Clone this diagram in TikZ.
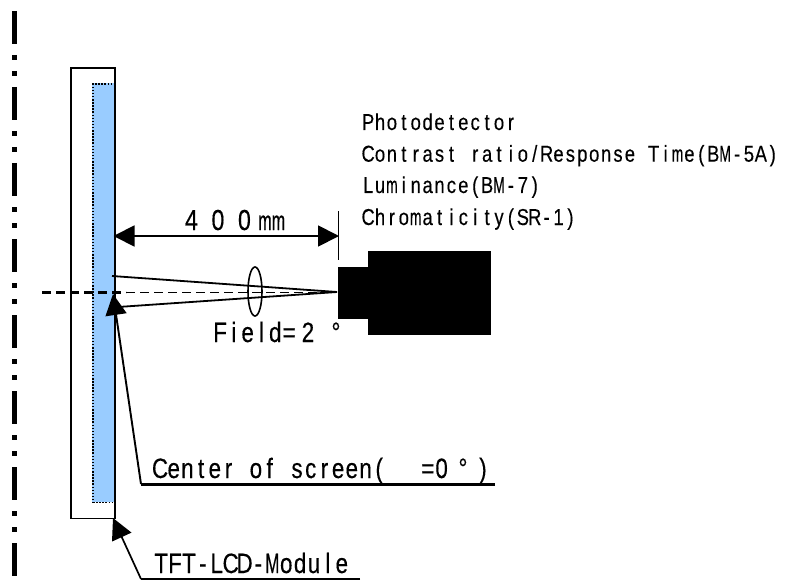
\documentclass[tikz,border=0pt]{standalone}
\usepackage{fontspec}
\setmainfont{Liberation Sans}
\newfontfamily\narrowfont[FakeStretch=0.8,FakeBold=0.3]{Liberation Sans}
\newfontfamily\squeezefont[FakeStretch=0.6,FakeBold=0.3]{Liberation Sans}
\definecolor{panel}{HTML}{99CCFF}
\ExplSyntaxOn
\NewDocumentCommand\monotext{mmm}{%
  % #1 pitch, #2 font size, #3 text
  {\fontsize{#2}{#2}\selectfont\narrowfont
   \str_map_inline:nn{#3}{\makebox[#1][c]{\str_if_eq:nnTF{##1}{m}{{\squeezefont m}}{\str_if_eq:nnTF{##1}{M}{{\squeezefont M}}{##1}}}}}%
}
\ExplSyntaxOff
\usetikzlibrary{arrows.meta,shapes.geometric}
\tikzset{
  x=1pt,y=-1pt,
  txt/.style={inner sep=0pt,anchor=base west},
  head/.style={-{Triangle[length=21pt,width=21pt]}},
  bihead/.style={{Triangle[length=21pt,width=21pt]}-{Triangle[length=21pt,width=21pt]}},
  thinl/.style={line width=1.8pt},
  thickl/.style={line width=3pt},
  cendash/.style={dash pattern=on 9.3pt off 4.7pt}
}
\begin{document}
\begin{tikzpicture}
\useasboundingbox (0,0) rectangle (797,580);
% coordinates
\coordinate (dtop) at (14.5,11);
\coordinate (dbot) at (14.5,576);
\coordinate (cenL) at (42,292.7);
\coordinate (cenM) at (126,292.7);
\coordinate (cenR) at (337,292.7);
\coordinate (lensA) at (337,292);
\coordinate (upL) at (112,276);
\coordinate (loL) at (118,307);
\coordinate (cs1) at (141,484);
\coordinate (cs2) at (495,484);
\coordinate (cst) at (113,294);
\coordinate (tf1) at (141,579);
\coordinate (tf2) at (360,579);
\coordinate (tft) at (113,518);
\coordinate (dimL) at (113.5,236);
\coordinate (dimR) at (339,236);
\coordinate (tick1) at (338.5,211);
\coordinate (tick2) at (338.5,260);
% dash-dot axis
\draw[line width=5pt,dash pattern=on 33pt off 11pt on 5pt off 11pt on 5pt off 11pt] (dtop) -- (dbot);
% module
\node[draw,line width=1.6pt,minimum width=44.3pt,minimum height=450.4pt,inner sep=0pt,anchor=north west] (module) at (70,67.3) {};
\fill[panel] (92.3,83.3) rectangle (114.3,501.7);
\node[draw=black,line width=1.5pt,dash pattern=on 1.5pt off 1.6pt,minimum width=22pt,minimum height=418.4pt,inner sep=0pt,anchor=north west] (panelbox) at (92.3,83.3) {};
% centre line
\draw[line width=2.6pt,cendash] (cenL) -- (cenM);
\draw[line width=1.5pt,cendash] (cenM) -- (cenR);
% camera
\node[fill=black,inner sep=0pt,minimum width=30pt,minimum height=52pt,anchor=north west] (lens) at (337.5,266.5) {};
\node[fill=black,inner sep=0pt,minimum width=123.5pt,minimum height=84pt,anchor=north west] (body) at (367.5,250.5) {};
% field cone
\draw[thinl] (upL) -- (lensA);
\draw[thinl] (loL) -- (lensA);
\node[draw,ellipse,line width=1.6pt,minimum width=14pt,minimum height=49pt,inner sep=0pt] (ell) at (255,291.5) {};
% dimension
\draw[line width=1.5pt] (tick1) -- (tick2);
\draw[line width=1.9pt,bihead] (dimL) -- (dimR);
% pointers
\draw[thickl] (cs2) -- (cs1);
\draw[line width=1.9pt,head] (cs1) -- (cst);
\draw[line width=1.5pt] (tf2) -- (tf1);
\draw[line width=1.7pt,head] (tf1) -- (tft);
% labels
\node[txt] (t1) at (362,130) {\monotext{11.9pt}{23pt}{Photodetector}};
\node[txt] (t2) at (362,161.7) {\monotext{11.9pt}{23pt}{Contrast ratio/Response Time(BM-5A)}};
\node[txt] (t3) at (362,193) {\monotext{11.9pt}{23pt}{Luminance(BM-7)}};
\node[txt] (t4) at (362,225) {\monotext{11.9pt}{23pt}{Chromaticity(SR-1)}};
\node[txt] (t5) at (178,230) {\monotext{26.5pt}{29pt}{400}\hspace{0.5pt}\monotext{13.5pt}{27pt}{mm}};
\node[txt] (t6) at (213,342) {\monotext{13.8pt}{28pt}{Field=}\hspace{5pt}\monotext{14pt}{28pt}{2}\hspace{14pt}\monotext{14pt}{28pt}{°}};
\node[txt] (t7) at (153,478) {\monotext{13.7pt}{28pt}{Center of screen(}\hspace{35pt}\monotext{13.7pt}{28pt}{=0}\hspace{7.5pt}\monotext{14pt}{28pt}{°}\hspace{6pt}\monotext{14pt}{28pt}{)}};
\node[txt] (t8) at (154,573) {\monotext{13.9pt}{28pt}{TFT-LCD-Module}};
\end{tikzpicture}
\end{document}
